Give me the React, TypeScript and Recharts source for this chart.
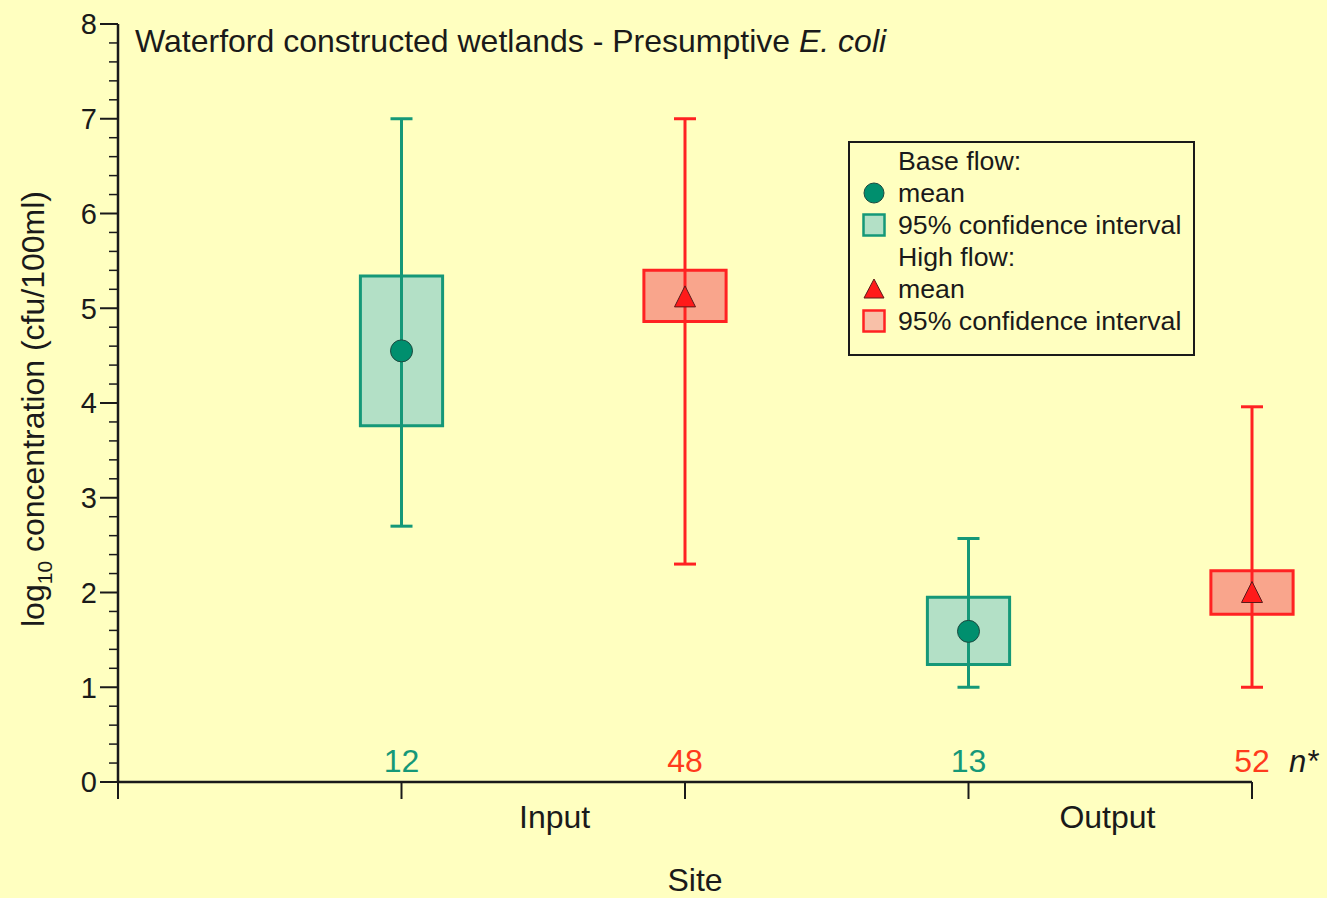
import {
  ComposedChart,
  Scatter,
  ErrorBar,
  XAxis,
  YAxis,
  ReferenceArea,
  ReferenceDot,
  Label,
} from 'recharts'

// sites along the x axis, base flow on the left of each pair, high flow on the right
const sites = ['Input', 'Output']
const siteLabelPos = [1.54, 3.49]
const basePos = [1, 3]
const highPos = [2, 4]

// log10 cfu/100ml
const baseMean = [4.55, 1.59]
const baseCiLow = [3.76, 1.24]
const baseCiHigh = [5.34, 1.95]
const baseMin = [2.7, 1.0]
const baseMax = [7.0, 2.57]
const baseN = [12, 13]

const highMean = [5.12, 2.0]
const highCiLow = [4.86, 1.77]
const highCiHigh = [5.4, 2.23]
const highMin = [2.3, 1.0]
const highMax = [7.0, 3.96]
const highN = [48, 52]

const yMajorTicks = [0, 1, 2, 3, 4, 5, 6, 7, 8]
const yMinorPerMajor = 5
const xTicks = [0, 1, 2, 3, 4, ...siteLabelPos]

const BG = '#ffffc0'
const INK = '#1a1a1a'
const GREEN = '#159878'
const GREEN_FILL = '#b3e0c6'
const GREEN_DOT = '#008f6e'
const RED = '#ff2222'
const RED_FILL = '#f9a58c'
const RED_DOT = '#ff1a1a'
const RED_N = '#ff3b1c'
const FONT = '"Liberation Sans", Arial, Helvetica, sans-serif'
const BOX_HALF = 0.145

const build = (pos, mean, lo, hi, min, max, n) =>
  pos.map((x, i) => ({ x, mean: mean[i], ciLo: lo[i], ciHi: hi[i], min: min[i], max: max[i], n: n[i] }))

const baseRows = build(basePos, baseMean, baseCiLow, baseCiHigh, baseMin, baseMax, baseN)
const highRows = build(highPos, highMean, highCiLow, highCiHigh, highMin, highMax, highN)

const yTicks = yMajorTicks.flatMap((t, i) =>
  i === yMajorTicks.length - 1
    ? [t]
    : Array.from({ length: yMinorPerMajor }, (_, k) => Math.round((t + k / yMinorPerMajor) * 100) / 100)
)

const whisker = (d) => [d.mean - d.min, d.max - d.mean]

function XTick(props) {
  const { x, y, payload } = props
  const idx = siteLabelPos.indexOf(payload.value)
  if (idx >= 0) {
    return (
      <text x={x} y={y + 46} textAnchor="middle" fontSize={32} fill={INK} fontFamily={FONT}>
        {sites[idx]}
      </text>
    )
  }
  return <line x1={x} x2={x} y1={y} y2={y + 17} stroke={INK} strokeWidth={2} />
}

function YTick(props) {
  const { x, y, payload } = props
  const v = payload.value
  const major = Math.abs(v - Math.round(v)) < 1e-6
  return (
    <g>
      <line x1={x - (major ? 18 : 9)} x2={x} y1={y} y2={y} stroke={INK} strokeWidth={major ? 2 : 1.5} />
      {major && (
        <text x={x - 21} y={y} dy="0.36em" textAnchor="end" fontSize={29} fill={INK} fontFamily={FONT}>
          {Math.round(v)}
        </text>
      )}
    </g>
  )
}

const MeanCircle = (p) => <circle cx={p.cx} cy={p.cy} r={11} fill={GREEN_DOT} stroke="#1d4a40" strokeWidth={1} />
const MeanTriangle = (p) => (
  <polygon
    points={`${p.cx},${p.cy - 11} ${p.cx - 10.5},${p.cy + 10} ${p.cx + 10.5},${p.cy + 10}`}
    fill={RED_DOT}
    stroke="#5a1a1a"
    strokeWidth={1}
  />
)

function Legend() {
  const row = { height: 32, display: 'flex', alignItems: 'center' }
  const icon = { width: 48, display: 'flex', justifyContent: 'center', alignItems: 'center' }
  return (
    <div
      style={{
        position: 'absolute',
        left: 848,
        top: 141,
        width: 343,
        height: 209,
        border: `2px solid ${INK}`,
        paddingTop: 2,
        boxSizing: 'content-box',
        fontFamily: FONT,
        fontSize: 26.7,
        color: INK,
        lineHeight: '32px',
      }}
    >
      <div style={row}><span style={icon} />Base flow:</div>
      <div style={row}>
        <span style={icon}><svg width={24} height={24}><circle cx={12} cy={12} r={10} fill={GREEN_DOT} stroke="#1d4a40" /></svg></span>mean
      </div>
      <div style={row}>
        <span style={icon}><svg width={24} height={24}><rect x={1.5} y={1.5} width={21} height={21} fill={GREEN_FILL} stroke={GREEN} strokeWidth={2.5} /></svg></span>95% confidence interval
      </div>
      <div style={row}><span style={icon} />High flow:</div>
      <div style={row}>
        <span style={icon}><svg width={24} height={24}><polygon points="12,2 2,21 22,21" fill={RED_DOT} stroke="#5a1a1a" /></svg></span>mean
      </div>
      <div style={row}>
        <span style={icon}><svg width={24} height={24}><rect x={1.5} y={1.5} width={21} height={21} fill="#f8c0a8" stroke={RED} strokeWidth={2.5} /></svg></span>95% confidence interval
      </div>
    </div>
  )
}

function YLabel(props) {
  const { viewBox } = props
  const cy = viewBox.y + viewBox.height / 2 + 6
  const cx = 32
  return (
    <text
      x={cx}
      y={cy}
      transform={`rotate(-90 ${cx} ${cy})`}
      textAnchor="middle"
      dy="0.36em"
      fontSize={32}
      fill={INK}
      fontFamily={FONT}
    >
      log<tspan fontSize={21} dy={8}>10</tspan>
      <tspan dy={-8}> concentration (cfu/100ml)</tspan>
    </text>
  )
}

function XLabel(props) {
  const { viewBox } = props
  return (
    <text x={viewBox.x + viewBox.width / 2 + 10} y={891} textAnchor="middle" fontSize={32} fill={INK} fontFamily={FONT}>
      Site
    </text>
  )
}

function NStar(props) {
  const { viewBox } = props
  return (
    <text x={viewBox.x + 37} y={viewBox.y - 10} fontSize={31} fontStyle="italic" fill={INK} fontFamily={FONT}>
      n*
    </text>
  )
}

export default function App() {
  return (
    <div style={{ position: 'relative', width: 1327, height: 898, background: BG, overflow: 'hidden' }}>
      <style>{'body{margin:0}'}</style>
      <ComposedChart width={1327} height={898} margin={{ top: 24, right: 75, bottom: 0, left: 0 }}>
        <XAxis
          type="number"
          dataKey="x"
          domain={[0, 4]}
          ticks={xTicks}
          interval={0}
          tick={<XTick />}
          tickLine={false}
          tickSize={0}
          tickMargin={0}
          height={116}
          axisLine={{ stroke: INK, strokeWidth: 2.5 }}
        >
          <Label content={<XLabel />} />
        </XAxis>
        <YAxis
          type="number"
          domain={[0, 8]}
          ticks={yTicks}
          interval={0}
          tick={<YTick />}
          tickLine={false}
          tickSize={0}
          tickMargin={0}
          width={118}
          axisLine={{ stroke: INK, strokeWidth: 2.5 }}
        >
          <Label content={<YLabel />} />
        </YAxis>

        {baseRows.map((d) => (
          <ReferenceArea
            key={`b-${d.x}`}
            x1={d.x - BOX_HALF}
            x2={d.x + BOX_HALF}
            y1={d.ciLo}
            y2={d.ciHi}
            ifOverflow="visible"
            fill={GREEN_FILL}
            fillOpacity={1}
            stroke={GREEN}
            strokeWidth={3}
          />
        ))}
        {highRows.map((d) => (
          <ReferenceArea
            key={`h-${d.x}`}
            x1={d.x - BOX_HALF}
            x2={d.x + BOX_HALF}
            y1={d.ciLo}
            y2={d.ciHi}
            ifOverflow="visible"
            fill={RED_FILL}
            fillOpacity={1}
            stroke={RED}
            strokeWidth={3}
          />
        ))}

        <Scatter data={baseRows} dataKey="mean" shape={MeanCircle} isAnimationActive={false}>
          <ErrorBar dataKey={whisker} direction="y" width={11} stroke={GREEN} strokeWidth={3} />
        </Scatter>
        <Scatter data={highRows} dataKey="mean" shape={MeanTriangle} isAnimationActive={false}>
          <ErrorBar dataKey={whisker} direction="y" width={11} stroke={RED} strokeWidth={3} />
        </Scatter>

        {baseRows.map((d) => (
          <ReferenceDot
            key={`bn-${d.x}`}
            x={d.x}
            y={0}
            r={0}
            ifOverflow="visible"
            label={{ value: d.n, position: 'top', offset: 10, fill: GREEN, fontSize: 32, fontFamily: FONT }}
          />
        ))}
        {highRows.map((d) => (
          <ReferenceDot
            key={`hn-${d.x}`}
            x={d.x}
            y={0}
            r={0}
            ifOverflow="visible"
            label={{ value: d.n, position: 'top', offset: 10, fill: RED_N, fontSize: 32, fontFamily: FONT }}
          />
        ))}
        <ReferenceDot x={highPos[highPos.length - 1]} y={0} r={0} ifOverflow="visible">
          <Label content={<NStar />} />
        </ReferenceDot>
      </ComposedChart>

      <div
        style={{
          position: 'absolute',
          left: 135,
          top: 25,
          fontFamily: FONT,
          fontSize: 32,
          lineHeight: '32px',
          color: INK,
          whiteSpace: 'nowrap',
        }}
      >
        Waterford constructed wetlands - Presumptive <i>E. coli</i>
      </div>
      <Legend />
    </div>
  )
}
